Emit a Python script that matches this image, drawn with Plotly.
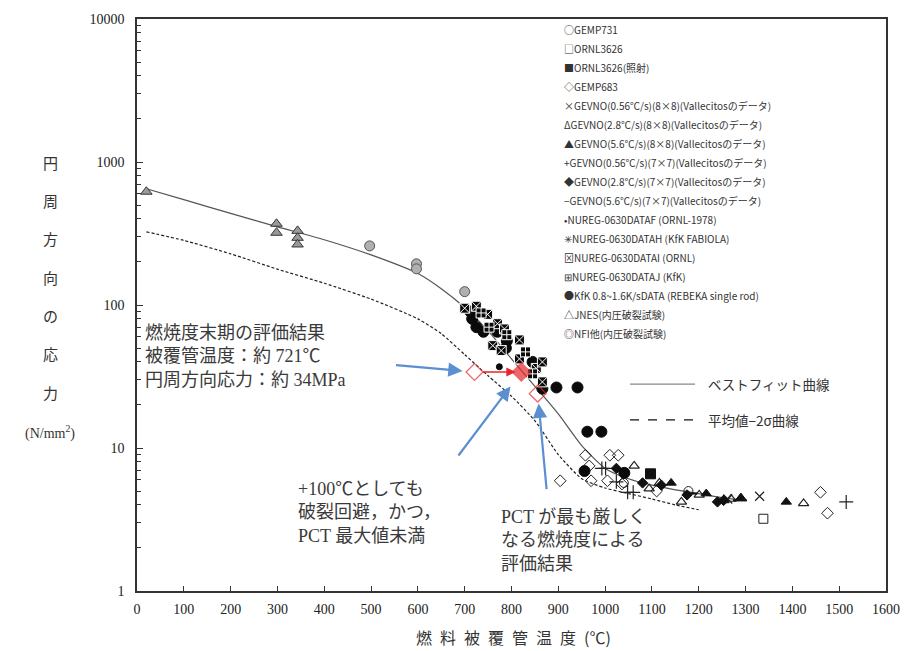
import numpy as np
import plotly.graph_objects as go

# ---------------- data ----------------
# best-fit curve and (mean - 2 sigma) curve
fit_T = [20, 100, 200, 300, 400, 500, 600, 650, 700, 750, 800, 850, 900, 950, 1000, 1050, 1100, 1150, 1200, 1250, 1295]
fit_S = [650, 545, 437, 352, 286, 224, 166, 130, 96, 66, 42, 27, 17.3, 10.4, 7.2, 6.1, 5.5, 5.1, 4.8, 4.5, 4.3]
m2s_T = [20, 100, 200, 300, 400, 500, 600, 650, 700, 750, 800, 850, 900, 950, 1000, 1050, 1100, 1150, 1200]
m2s_S = [325, 283, 228, 178, 142, 110, 80, 63, 45, 32, 23, 15.5, 9.0, 6.1, 5.25, 4.8, 4.4, 4.0, 3.7]

gemp731_T = [1040, 1178]
gemp731_S = [5.7, 5.0]
ornl_T = [1338]
ornl_S = [3.2]
ornl_irr_T = [1097]
ornl_irr_S = [6.6]
gemp683_T = [904, 958, 1010, 1028, 966, 970, 1005, 1036, 1110, 1460, 1475]
gemp683_S = [5.9, 8.9, 8.9, 8.9, 7.5, 5.9, 5.9, 5.6, 5.0, 4.9, 3.5]
gv056_88_T = [1262, 1330]
gv056_88_S = [4.4, 4.6]
gv28_88_T = [1062, 1094, 1116, 1163, 1201, 1254, 1269, 1424]
gv28_88_S = [7.5, 5.2, 5.7, 4.2, 4.7, 4.3, 4.4, 4.1]
gv56_88_T = [1141, 1216, 1290, 1387]
gv56_88_S = [5.7, 4.8, 4.5, 4.2]
gv056_77_T = [993, 1001, 1024, 1048, 1060, 1515]
gv056_77_S = [7.2, 7.2, 5.8, 4.9, 4.9, 4.2]
gv28_77_T = [1024, 1080, 1120, 1175, 1240, 1253]
gv28_77_S = [7.2, 5.7, 5.5, 4.7, 4.2, 4.3]
gv56_77_T = [1182, 1288]
gv56_77_S = [4.8, 4.3]
nuregF_T = [774]
nuregF_S = [37]
nuregH_T = [700, 725, 749, 770, 785, 817, 853]
nuregH_S = [95, 98, 86, 74, 68, 57, 36]
nuregI_T = [760, 778, 817, 866, 866]
nuregI_S = [52, 48, 42, 40, 29]
nuregJ_T = [735, 752, 790, 830, 845]
nuregJ_S = [88, 70, 62, 47, 33]
rebeka_T = [712, 716, 725, 740, 770, 790, 788, 845, 866, 896, 941, 956, 962, 992, 1041]
rebeka_S = [90, 80, 70, 65, 65, 56, 50, 40, 26, 26.5, 26.5, 6.9, 13, 13, 6.7]
jnes_T = [20, 298, 298, 343, 343, 343]
jnes_S = [620, 370, 320, 330, 295, 265]
nfi_T = [497, 597, 597, 700]
nfi_S = [259, 194, 179, 124]

# evaluation results (red diamonds)
eval_T = [721, 821, 856]
eval_S = [34, 34, 24]

legend_labels = [
    "○GEMP731",
    "□ORNL3626",
    "■ORNL3626(照射)",
    "◇GEMP683",
    "×GEVNO(0.56℃/s)(8×8)(Vallecitosのデータ)",
    "ΔGEVNO(2.8℃/s)(8×8)(Vallecitosのデータ)",
    "▲GEVNO(5.6℃/s)(8×8)(Vallecitosのデータ)",
    "+GEVNO(0.56℃/s)(7×7)(Vallecitosのデータ)",
    "◆GEVNO(2.8℃/s)(7×7)(Vallecitosのデータ)",
    "−GEVNO(5.6℃/s)(7×7)(Vallecitosのデータ)",
    "•NUREG-0630DATAF (ORNL-1978)",
    "✳NUREG-0630DATAH (KfK FABIOLA)",
    "⊠NUREG-0630DATAI (ORNL)",
    "⊞NUREG-0630DATAJ (KfK)",
    "●KfK 0.8~1.6K/sDATA (REBEKA single rod)",
    "△JNES(内圧破裂試験)",
    "◎NFI他(内圧破裂試験)",
]
curve_labels = ["ベストフィット曲線", "平均値−2σ曲線"]
y_title_chars = ["円", "周", "方", "向", "の", "応", "力"]
x_title = "\u2002".join(list("燃料被覆管温度")) + "\u2002(℃)"
y_tickvals = [1, 10, 100, 1000, 10000]
y_ticktext = ["1", "10", "100", "1000", "10000"]

# ---------------- layout geometry ----------------
W, H = 921, 651
ML, MR, MT, MB = 137, 35, 16, 60
PW, PH = W - ML - MR, H - MT - MB


def px(x):
    return (x - ML) / PW


def py(y):
    return (H - MB - y) / PH


NUM = "Liberation Serif"
JP = "Noto Sans CJK JP"
MIX = "Liberation Serif, Noto Sans CJK JP"

fig = go.Figure()

fig.add_trace(go.Scatter(x=fit_T, y=fit_S, mode="lines", line=dict(color="#555", width=1.2, shape="spline", smoothing=0.6), showlegend=False))
fig.add_trace(go.Scatter(x=m2s_T, y=m2s_S, mode="lines", line=dict(color="#222", width=1.2, dash="3px,2px", shape="spline", smoothing=0.6), showlegend=False))


def add(T, S, symbol, size, color, lc, lw):
    fig.add_trace(go.Scatter(x=T, y=S, mode="markers", showlegend=False,
                             marker=dict(symbol=symbol, size=size, color=color, line=dict(color=lc, width=lw))))


add(jnes_T, jnes_S, "triangle-up", 10, "#9a9a9a", "#333", 1)
add(nfi_T, nfi_S, "circle", 10, "#b0b0b0", "#555", 1)
add(gemp683_T, gemp683_S, "diamond-open", 9, "#222", "#222", 1)
add(gemp731_T, gemp731_S, "circle-open", 9, "#222", "#222", 1)
add(ornl_T, ornl_S, "square-open", 9, "#222", "#222", 1)
add(ornl_irr_T, ornl_irr_S, "square", 10, "#111", "#111", 1)
add(gv056_88_T, gv056_88_S, "x-thin", 9, "#222", "#222", 1.2)
add(gv28_88_T, gv28_88_S, "triangle-up-open", 9, "#222", "#222", 1.2)
add(gv56_88_T, gv56_88_S, "triangle-up", 9, "#111", "#111", 1)
add(gv056_77_T, gv056_77_S, "cross-thin", 10, "#222", "#222", 1.2)
add(gv28_77_T, gv28_77_S, "diamond", 8, "#111", "#111", 1)
add(gv56_77_T, gv56_77_S, "line-ew", 10, "#111", "#111", 2)
add(rebeka_T, rebeka_S, "circle", 11, "#0a0a0a", "#0a0a0a", 1)
add(nuregF_T, nuregF_S, "circle", 6, "#0a0a0a", "#0a0a0a", 1)
add(nuregH_T, nuregH_S, "square-x", 10, "#0a0a0a", "#ffffff", 1)
add(nuregI_T, nuregI_S, "square-x", 10, "#0a0a0a", "#ffffff", 1)
add(nuregJ_T, nuregJ_S, "square-cross", 10, "#0a0a0a", "#ffffff", 1)

RED = "#e8262a"
BLUE = "#5b8fd0"
fig.add_trace(go.Scatter(x=eval_T, y=eval_S, mode="markers", showlegend=False,
                         marker=dict(symbol=["diamond-open", "diamond", "diamond-open"], size=[13, 14, 13],
                                     color=RED, line=dict(color=RED, width=1.3))))

annotations = []
# red arrow from 721 to 821
annotations.append(dict(x=eval_T[1], y=np.log10(eval_S[1]), ax=eval_T[0], ay=np.log10(eval_S[0]),
                        xref="x", yref="y", axref="x", ayref="y", showarrow=True, text="",
                        arrowcolor=RED, arrowwidth=1.5, arrowhead=2, arrowsize=1.2, standoff=6, startstandoff=7))
# blue arrows
for (i, axp, ayp, so) in [(0, -80, -7, 12), (1, -64, 85, 18), (2, 9, 97, 10)]:
    annotations.append(dict(x=eval_T[i], y=np.log10(eval_S[i]), xref="x", yref="y", ax=axp, ay=ayp,
                            showarrow=True, text="", arrowcolor=BLUE, arrowwidth=2.2, arrowhead=2,
                            arrowsize=1.3, standoff=so))

# text blocks
annotations.append(dict(x=px(143), y=py(320), xref="paper", yref="paper", xanchor="left", yanchor="top",
                        align="left", showarrow=False, font=dict(family=MIX, size=18, color="#3a3a3a"),
                        text="燃焼度末期の評価結果<br>被覆管温度：約 721℃<br>円周方向応力：約 34MPa"))
annotations.append(dict(x=px(296), y=py(476), xref="paper", yref="paper", xanchor="left", yanchor="top",
                        align="left", showarrow=False, font=dict(family=MIX, size=18, color="#3a3a3a"),
                        text="+100℃としても<br>破裂回避，かつ，<br>PCT 最大値未満"))
annotations.append(dict(x=px(499), y=py(505), xref="paper", yref="paper", xanchor="left", yanchor="top",
                        align="left", showarrow=False, font=dict(family=MIX, size=18, color="#3a3a3a"),
                        text="PCT が最も厳しく<br>なる燃焼度による<br>評価結果"))

# data legend (text list)
for i, lab in enumerate(legend_labels):
    annotations.append(dict(x=px(562), y=py(27 + i * 19.1), xref="paper", yref="paper", xanchor="left",
                            yanchor="middle", showarrow=False, text=lab,
                            font=dict(family=JP, size=10, color="#333")))

# curve legend
shapes = []
for i, (lab, dash, col) in enumerate(zip(curve_labels, ["solid", "dash"], ["#888", "#111"])):
    yy = [383, 419][i]
    shapes.append(dict(type="line", xref="paper", yref="paper", x0=px(630), x1=px(695), y0=py(yy), y1=py(yy),
                       line=dict(color=col, width=1.2, dash=dash)))
    annotations.append(dict(x=px(706), y=py(yy), xref="paper", yref="paper", xanchor="left", yanchor="middle",
                            showarrow=False, text=lab, font=dict(family=JP, size=13.5, color="#333")))

# y axis title (vertical characters)
for i, ch in enumerate(y_title_chars):
    annotations.append(dict(x=px(50), y=py(160 + i * 38.5), xref="paper", yref="paper", xanchor="center",
                            yanchor="middle", showarrow=False, text=ch,
                            font=dict(family=JP, size=15, color="#333")))
annotations.append(dict(x=px(50), y=py(432), xref="paper", yref="paper", xanchor="center", yanchor="middle",
                        showarrow=False, text="(N/mm<sup>2</sup>)", font=dict(family=NUM, size=14, color="#333")))
# x axis title
annotations.append(dict(x=px(513), y=py(637), xref="paper", yref="paper", xanchor="center", yanchor="middle",
                        showarrow=False, text=x_title, font=dict(family=JP, size=16, color="#333")))

minor_vals = [m * 10 ** k for k in range(4) for m in range(2, 10)]

fig.update_layout(
    width=W, height=H,
    margin=dict(l=ML, r=MR, t=MT, b=MB),
    paper_bgcolor="white", plot_bgcolor="white",
    showlegend=False,
    annotations=annotations,
    shapes=shapes,
    xaxis=dict(range=[0, 1600], tick0=0, dtick=100, ticks="inside", ticklen=5, tickcolor="#333",
               showline=True, linecolor="#333", linewidth=1.5, mirror=True, showgrid=False, zeroline=False,
               tickfont=dict(family=NUM, size=14, color="#222"), ticklabelstandoff=4),
    yaxis=dict(type="log", range=[0, 4], tickvals=y_tickvals, ticktext=y_ticktext, ticks="inside", ticklen=6,
               tickcolor="#333", showline=True, linecolor="#333", linewidth=1.5, mirror=True, showgrid=False,
               zeroline=False, tickfont=dict(family=NUM, size=14, color="#222"), ticklabelstandoff=8,
               minor=dict(tickvals=minor_vals, ticks="inside", ticklen=4, tickcolor="#333", showgrid=False)),
)

fig.write_html("out.html", config={"displayModeBar": False},
               post_script="document.body.style.margin='0px';document.body.style.overflow='hidden';")
